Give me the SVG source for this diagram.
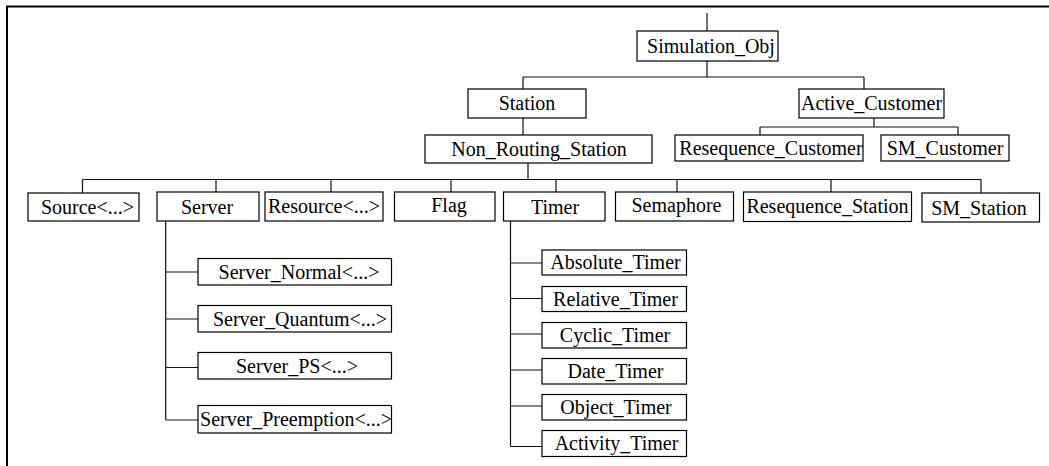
<svg xmlns="http://www.w3.org/2000/svg" width="1049" height="466" viewBox="0 0 1049 466">
<style>
.b{fill:#fff;stroke:#000;stroke-width:1.2}
text{font-family:'Liberation Serif','Times New Roman','DejaVu Serif',serif;font-size:20px;fill:#000;text-anchor:middle}
.c{fill:none;stroke:#111;stroke-width:1.2}
.f{fill:none;stroke:#000;stroke-width:2}
</style>
<rect width="1049" height="466" fill="#fff"/>
<path class="f" d="M7,466 V6.5 H1049"/>
<g id="connectors">
<path class="c" d="M707,13 V31"/>
<path class="c" d="M707,61 V77 M523,77 H864 M523,77 V89 M864,77 V89"/>
<path class="c" d="M523,118 V135"/>
<path class="c" d="M874,118 V127 M760,127 H958 M760,127 V135 M958,127 V135"/>
<path class="c" d="M528,163 V179.5 M82.5,179.5 H981"/>
<path class="c" d="M82.5,179.5 V193 M216,179.5 V192 M331,179.5 V192 M451,179.5 V192 M556,179.5 V192 M677,179.5 V192 M831,179.5 V192 M981,179.5 V193"/>
<path class="c" d="M165.7,221 V420 M165.7,272 H198 M165.7,319 H198 M165.7,367.5 H198 M165.7,420 H198"/>
<path class="c" d="M510.5,221 V446.5 M510.5,263 H542 M510.5,298.5 H542 M510.5,334 H542 M510.5,370 H542 M510.5,406 H542 M510.5,446.5 H542"/>
</g>
<g font-family="Liberation Serif, serif">
<g id="simulation_obj"><rect class="b" x="637" y="31" width="141" height="30"/><text x="711" y="53">Simulation_Obj</text></g>
<g id="station"><rect class="b" x="468" y="89" width="118" height="29"/><text x="527" y="110">Station</text></g>
<g id="active_customer"><rect class="b" x="799" y="89" width="145" height="29"/><text x="871.5" y="110">Active_Customer</text></g>
<g id="non_routing_station"><rect class="b" x="425" y="135" width="227" height="28"/><text x="539" y="155.5">Non_Routing_Station</text></g>
<g id="resequence_customer"><rect class="b" x="675" y="135" width="188" height="26"/><text x="771" y="154.5">Resequence_Customer</text></g>
<g id="sm_customer"><rect class="b" x="881" y="135" width="128" height="26"/><text x="945" y="154.5">SM_Customer</text></g>
<g id="source"><rect class="b" x="28" y="193" width="111" height="28"/><text x="87.5" y="213.5">Source&lt;...&gt;</text></g>
<g id="server"><rect class="b" x="157" y="192" width="102" height="29"/><text x="207" y="213.5">Server</text></g>
<g id="resource"><rect class="b" x="265" y="192" width="118" height="29"/><text x="324" y="213">Resource&lt;...&gt;</text></g>
<g id="flag"><rect class="b" x="394.5" y="192" width="100.5" height="29"/><text x="449" y="212">Flag</text></g>
<g id="timer"><rect class="b" x="503.5" y="192" width="101.5" height="29"/><text x="555" y="213.5">Timer</text></g>
<g id="semaphore"><rect class="b" x="615.5" y="192" width="118" height="29"/><text x="676.5" y="212">Semaphore</text></g>
<g id="resequence_station"><rect class="b" x="743.5" y="192" width="168" height="29.5"/><text x="827.5" y="212.5">Resequence_Station</text></g>
<g id="sm_station"><rect class="b" x="922" y="193" width="117.5" height="29"/><text x="979" y="214.5">SM_Station</text></g>
<g id="server_normal"><rect class="b" x="198" y="258.5" width="193.5" height="26.5"/><text x="299" y="278.5">Server_Normal&lt;...&gt;</text></g>
<g id="server_quantum"><rect class="b" x="198" y="305.5" width="193.5" height="26.5"/><text x="300" y="325.5">Server_Quantum&lt;...&gt;</text></g>
<g id="server_ps"><rect class="b" x="198" y="352.5" width="193.5" height="26.5"/><text x="297" y="372.5">Server_PS&lt;...&gt;</text></g>
<g id="server_preemption"><rect class="b" x="198" y="405.5" width="193.5" height="27.5"/><text x="296" y="426">Server_Preemption&lt;...&gt;</text></g>
<g id="absolute_timer"><rect class="b" x="542" y="250" width="144.5" height="25"/><text x="615.5" y="269">Absolute_Timer</text></g>
<g id="relative_timer"><rect class="b" x="542" y="286.5" width="144.5" height="25"/><text x="615.5" y="305.5">Relative_Timer</text></g>
<g id="cyclic_timer"><rect class="b" x="542" y="322.5" width="144.5" height="25.5"/><text x="615" y="341.5">Cyclic_Timer</text></g>
<g id="date_timer"><rect class="b" x="542" y="358.5" width="144.5" height="25.5"/><text x="615.5" y="377.5">Date_Timer</text></g>
<g id="object_timer"><rect class="b" x="542" y="394.5" width="144.5" height="25.5"/><text x="616" y="413.5">Object_Timer</text></g>
<g id="activity_timer"><rect class="b" x="542" y="430.5" width="144.5" height="26"/><text x="616.5" y="450">Activity_Timer</text></g>
</g>
</svg>
